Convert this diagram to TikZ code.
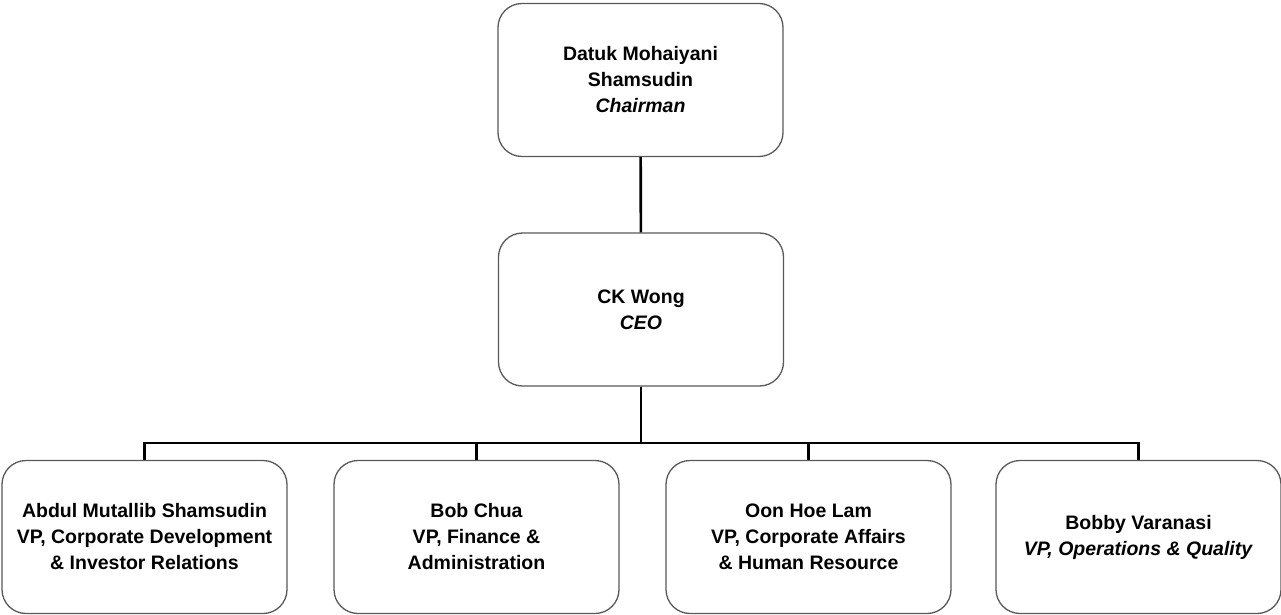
\documentclass[tikz,border=0pt]{standalone}
\usepackage{fontspec}
\setmainfont{Liberation Sans}
\usetikzlibrary{positioning}

\begin{document}
\begin{tikzpicture}[x=1pt, y=1pt,
    % Styles
    person/.style={draw=black!65, line width=1.3pt, fill=white, rounded corners=24pt, minimum width=285pt, minimum height=153pt, align=center, font=\fontsize{19.5}{26}\selectfont\bfseries},
    link/.style={line width=2.6pt, black},
]
\useasboundingbox (0,0) rectangle (1281,614);

% Top of the chart
\node[person] (chairman) at (640.5, 534) {Datuk Mohaiyani\\Shamsudin\\\textit{Chairman}};
\node[person] (ceo) at (641, 304.5) {CK Wong\\\textit{CEO}};
\draw[link] (chairman) -- (ceo);

% Vice presidents
\node[person] (vpcorp) at (144.5, 77) {Abdul Mutallib Shamsudin\\VP, Corporate Development\\\& Investor Relations};
\node[person] (vpfin) at (476.5, 77) {Bob Chua\\VP, Finance \&\\Administration};
\node[person] (vpaffairs) at (808.5, 77) {Oon Hoe Lam\\VP, Corporate Affairs\\\& Human Resource};
\node[person] (vpops) at (1138.5, 77) {Bobby Varanasi\\\textit{VP, Operations \& Quality}};

% Bus line
\coordinate (bus) at (641, 171);
\foreach \vp in {vpcorp, vpfin, vpaffairs, vpops}
    \draw[link] (ceo.south) -- (bus) -| (\vp.north);

\end{tikzpicture}
\end{document}
